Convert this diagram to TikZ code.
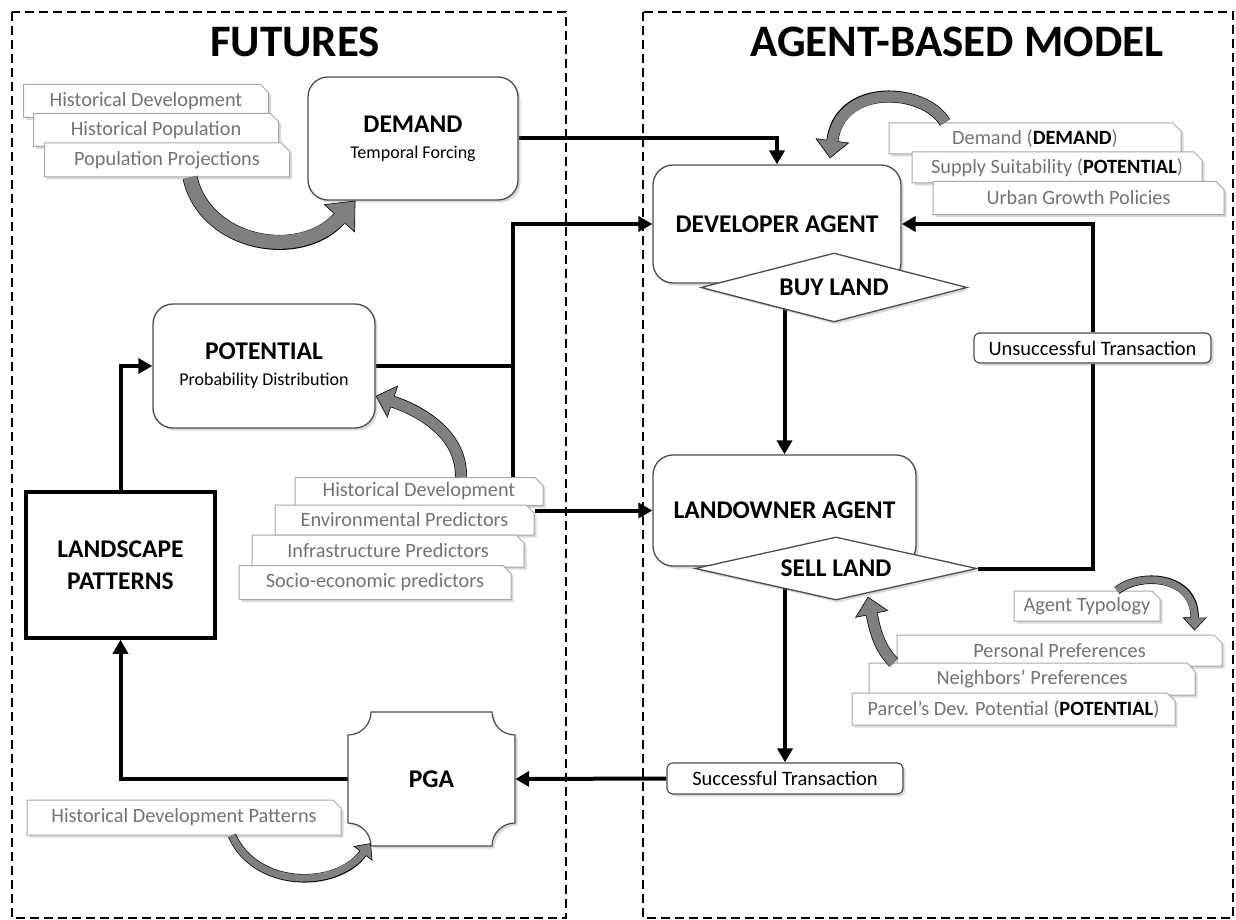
\documentclass[tikz,border=0pt]{standalone}
\usepackage{fontspec}
\setmainfont{Carlito}
\usetikzlibrary{arrows.meta,shapes.geometric,shapes.misc,shadows,calc}
\pgfdeclarelayer{bg}
\pgfsetlayers{bg,main}

\tikzset{
  panel/.style={draw, line width=1.6pt, dash pattern=on 9pt off 5pt},
  heading/.style={font=\fontsize{45}{48}\selectfont\bfseries},
  softshadow/.style={drop shadow={shadow xshift=2.5pt, shadow yshift=-2.5pt, opacity=0.3}},
  mainbox/.style={draw=black!70, line width=1.3pt, fill=white, rounded corners=20pt,
    inner sep=0pt, align=center, font=\fontsize{25.5}{26}\selectfont\bfseries, softshadow},
  decision/.style={diamond, draw=black!70, line width=1.3pt, fill=white, inner sep=0pt,
    font=\fontsize{25.5}{26}\selectfont\bfseries, softshadow},
  item/.style={chamfered rectangle, chamfered rectangle corners=north east,
    chamfered rectangle sep=4pt, draw=black!35, line width=1pt, fill=white,
    text=black!55, inner sep=0pt, font=\fontsize{20.3}{22}\selectfont, softshadow},
  outcome/.style={draw=black!70, line width=1.2pt, fill=white, rounded corners=6pt,
    inner sep=0pt, font=\fontsize{20.5}{22}\selectfont, softshadow},
  flow/.style={line width=4pt, -{Triangle[length=14pt,width=15pt]}},
  link/.style={line width=4pt},
  bigcurve/.style={draw=black, line width=0.6pt, -{Triangle[length=24pt,width=42pt,fill=gray]},
    postaction={draw=black, arrows=-, line width=15pt, shorten >=24pt},
    postaction={draw=gray, arrows=-, line width=13.6pt, shorten >=22pt}},
  medcurve/.style={draw=black, line width=0.6pt, -{Triangle[length=18pt,width=34pt,fill=gray]},
    postaction={draw=black, arrows=-, line width=12pt, shorten >=18pt},
    postaction={draw=gray, arrows=-, line width=10.6pt, shorten >=16pt}},
  smallcurve/.style={draw=black, line width=0.6pt, -{Triangle[length=13pt,width=24pt,fill=gray]},
    postaction={draw=black, arrows=-, line width=8.5pt, shorten >=13pt},
    postaction={draw=gray, arrows=-, line width=7.1pt, shorten >=11pt}},
}

\begin{document}
\begin{tikzpicture}[x=1pt,y=-1pt]
\useasboundingbox (0,0) rectangle (1236,920);

% the two panels
\begin{pgfonlayer}{bg}
\draw[panel] (12,12) rectangle (566,918);
\draw[panel] (643,12) rectangle (1233,918);
\end{pgfonlayer}

\node[heading] (futures) at (295,42) {FUTURES};
\node[heading] (abm) at (957,42) {AGENT-BASED MODEL};

% FUTURES side
\node[item, minimum width=245pt, minimum height=33pt] (hA) at (146,101) {Historical Development};
\node[item, minimum width=245pt, minimum height=33pt] (hB) at (156,130) {Historical Population};
\node[item, minimum width=245pt, minimum height=34pt] (hC) at (167,160) {Population Projections};

\node[mainbox, minimum width=210pt, minimum height=123pt] (demand) at (413,138.5)
  {DEMAND\\{\fontsize{18}{20}\selectfont\mdseries Temporal Forcing}};

\node[mainbox, minimum width=222pt, minimum height=124pt] (potential) at (264,366)
  {POTENTIAL\\{\fontsize{18}{20}\selectfont\mdseries Probability Distribution}};

\node[draw, line width=3.5pt, fill=white, minimum width=189pt, minimum height=146pt,
  inner sep=0pt, align=center, font=\fontsize{25.5}{32}\selectfont\bfseries] (land) at (120.5,565)
  {LANDSCAPE\\PATTERNS};

\node[item, minimum width=248pt, minimum height=28pt] (pA) at (419,491.5) {Historical Development};
\node[item, minimum width=259pt, minimum height=30pt] (pB) at (404.5,520) {Environmental Predictors};
\node[item, minimum width=272pt, minimum height=32pt] (pC) at (388,551) {Infrastructure Predictors};
\node[item, minimum width=272pt, minimum height=34pt] (pD) at (375,582.5) {Socio-economic predictors};

% PGA plaque
\draw[draw=black!70, line width=1.2pt, fill=white, softshadow]
  (348,735) .. controls (360.7,735) and (371,724.7) .. (371,712) -- (492,712)
  .. controls (492,724.7) and (502.3,735) .. (515,735) -- (515,823)
  .. controls (502.3,823) and (492,833.3) .. (492,846) -- (371,846)
  .. controls (371,833.3) and (360.7,823) .. (348,823) -- cycle;
\node[minimum width=167pt, minimum height=134pt, inner sep=0pt,
  font=\fontsize{25.5}{26}\selectfont\bfseries] (pga) at (431.5,779) {PGA};

\node[item, minimum width=314pt, minimum height=35pt] (hp) at (184,817.5) {Historical Development Patterns};

% AGENT-BASED MODEL side
\node[item, minimum width=292pt, minimum height=31pt] (dA) at (1035,138.5)
  {Demand ({\color{black}\bfseries DEMAND})};
\node[item, minimum width=290pt, minimum height=31pt] (dB) at (1057,167.5)
  {Supply Suitability ({\color{black}\bfseries POTENTIAL})};
\node[item, minimum width=291pt, minimum height=33pt] (dC) at (1078.5,198)
  {Urban Growth Policies};

\node[mainbox, minimum width=248pt, minimum height=118pt] (dev) at (777,224) {DEVELOPER AGENT};
\node[decision, aspect=3.85, minimum width=266pt, minimum height=69pt] (buy) at (834,287.5) {BUY LAND};

\node[outcome, minimum width=237pt, minimum height=30pt] (unsucc) at (1092.5,348) {Unsuccessful Transaction};

\node[mainbox, minimum width=263pt, minimum height=111pt] (own) at (784.5,510.5) {LANDOWNER AGENT};
\node[decision, aspect=4.48, minimum width=282pt, minimum height=63pt] (sell) at (836,568.5) {SELL LAND};

\node[item, minimum width=146pt, minimum height=30pt] (aT) at (1087,606) {Agent Typology};
\node[item, minimum width=325pt, minimum height=31pt] (aA) at (1059.5,650.5) {Personal Preferences};
\node[item, minimum width=326pt, minimum height=32pt] (aB) at (1032,679) {Neighbors’ Preferences};
\node[item, minimum width=323pt, minimum height=32pt] (aC) at (1013.5,709)
  {Parcel’s Dev. Potential ({\color{black}\bfseries POTENTIAL})};

\node[outcome, minimum width=236pt, minimum height=31pt] (succ) at (785,778.5) {Successful Transaction};

% connectors
\begin{pgfonlayer}{bg}
\coordinate (split) at (513,366);
\draw[flow] (demand.east) -| (dev.north);
\draw[link] (potential.east) -- (split);
\draw[flow] (pA.north -| split) |- (dev.west);
\draw[flow] (pB.east |- own.west) -- (own.west);
\draw[flow] (buy.center -| own.north) -- (own.north);
\draw[link] (sell.east) -| (unsucc.south);
\draw[flow] (unsucc.north) |- (dev.east);
\draw[flow] (sell.center -| succ.north) -- (succ.north);
\draw[flow] (succ.west) -- (pga.east);
\draw[flow] (pga.west) -| (land.south);
\draw[flow] (land.north) |- (potential.west);
\end{pgfonlayer}

% curved input arrows
\draw[bigcurve] ([xshift=23pt]hC.south) .. controls (205,245) and (300,262) .. ([xshift=48pt]demand.south west);
\draw[medcurve] ([xshift=42pt]pA.north) .. controls (462,430) and (412,408) .. ([yshift=-30pt]potential.east);
\draw[medcurve] ([xshift=-90pt]dA.north) .. controls (925,88) and (840,82) .. ([xshift=53pt,yshift=6pt]dev.north);
\draw[smallcurve] ([xshift=30pt]aT.north) .. controls (1140,572) and (1195,575) .. ([xshift=135pt,yshift=4pt]aA.north);
\draw[medcurve] ([xshift=-138pt]aB.north) .. controls (878,648) and (874,625) .. ([xshift=32pt,yshift=4pt]sell.south);
\draw[smallcurve] ([xshift=48pt]hp.south) .. controls (255,888) and (335,890) .. ([xshift=23pt,yshift=3pt]pga.south west);

\end{tikzpicture}
\end{document}
